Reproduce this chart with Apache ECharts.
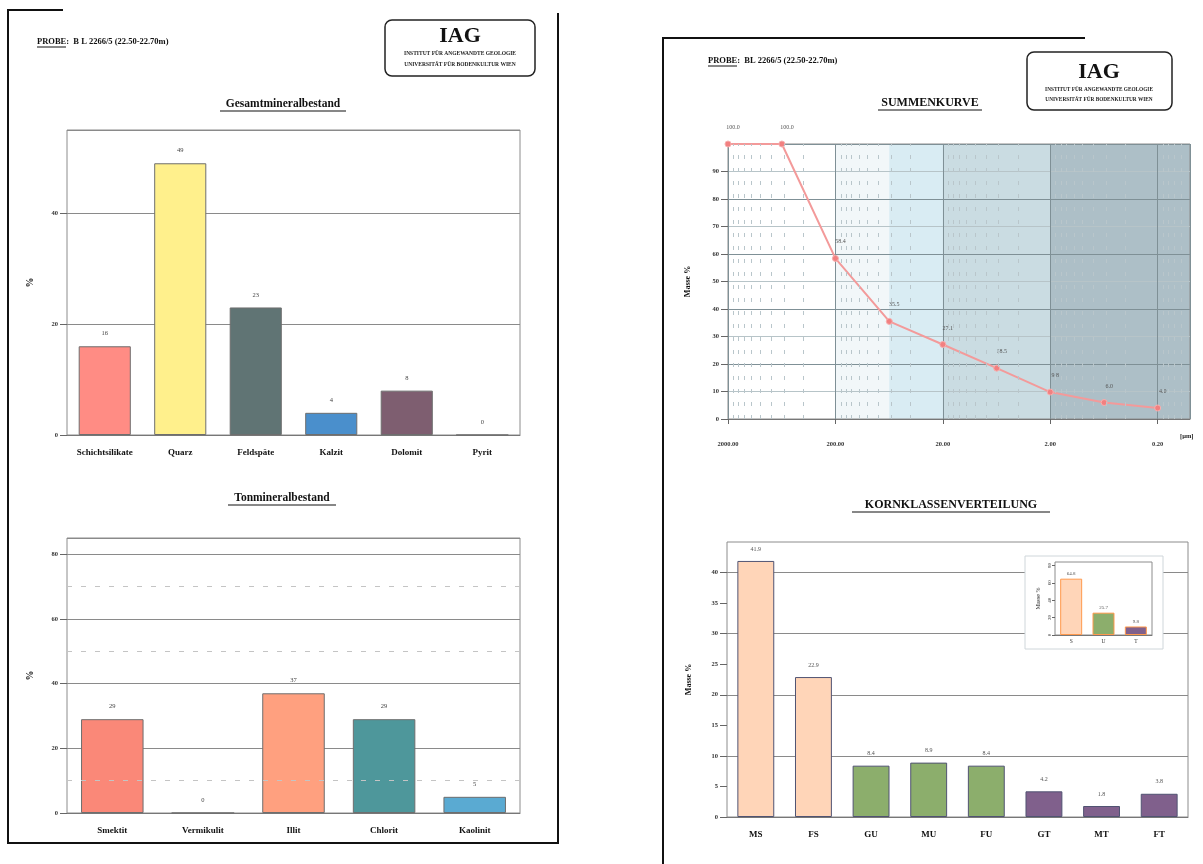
<!DOCTYPE html>
<html><head><meta charset="utf-8">
<script src="https://cdn.jsdelivr.net/npm/echarts@6/dist/echarts.min.js"></script>
<style>html,body{margin:0;padding:0;background:#fff}#c{width:1203px;height:864px}</style>
</head><body><div id="c"></div>
<script>
// ---------- DATA ----------
const gesamtCategories = ['Schichtsilikate', 'Quarz', 'Feldspäte', 'Kalzit', 'Dolomit', 'Pyrit'];
const gesamtValues = [16, 49, 23, 4, 8, 0];

const tonCategories = ['Smektit', 'Vermikulit', 'Illit', 'Chlorit', 'Kaolinit'];
const tonValues = [29, 0, 37, 29, 5];
const tonDashedLevels = [10, 50, 70];

const sieveSizes = [2000, 630, 200, 63, 20, 6.3, 2, 0.63, 0.2];          // µm
const cumulativePercent = [100.0, 100.0, 58.4, 35.5, 27.1, 18.5, 9.8, 6.0, 4.0];
const sizeAxisMax = 2000, sizeAxisMin = 0.1;                            // µm
const sizeZones = [[200, 63], [63, 20], [20, 2], [2, 0.1]];             // µm
const decadeStarts = [2000, 200, 20, 2, 0.2];
const minorFactors = [0.9, 0.8, 0.7, 0.6, 0.5, 0.4, 0.3, 0.2];

const kornCategories = ['MS', 'FS', 'GU', 'MU', 'FU', 'GT', 'MT', 'FT'];
const kornValues = [41.9, 22.9, 8.4, 8.9, 8.4, 4.2, 1.8, 3.8];

const insetCategories = ['S', 'U', 'T'];
const insetValues = [64.8, 25.7, 9.8];

// ---------- STYLE ----------
const serif = 'Liberation Serif';
const gesamtColors = ['#ff8c84', '#fff08c', '#607474', '#4a8fcc', '#7e5e70', '#999999'];
const tonColors = ['#fa8878', '#cccccc', '#ffa07f', '#4e979b', '#5aaad2'];
const kornColors = ['#ffd5b8', '#ffd5b8', '#8cae6c', '#8cae6c', '#8cae6c', '#80608c', '#80608c', '#80608c'];
const kornBorders = ['#d89070', '#d89070', '#5a7a45', '#5a7a45', '#5a7a45', '#4a3a55', '#4a3a55', '#4a3a55'];
const insetColors = ['#ffd5b8', '#8cae6c', '#80608c'];
const insetBorders = ['#d89070', '#5a7a45', '#4a3a55'];
const zoneColors = ['rgba(125,175,195,0.10)', 'rgba(118,188,212,0.28)', 'rgba(108,157,175,0.36)', 'rgba(97,133,148,0.52)'];

const toU = d => Math.log10(sizeAxisMax / d);

const chart = echarts.init(document.getElementById('c'), null, {renderer: 'canvas'});

function catAxis(idx, cats, extra) {
  return Object.assign({
    type: 'category', gridIndex: idx, data: cats,
    axisLine: {show: true, lineStyle: {color: '#777', width: 1}},
    axisTick: {show: false},
    axisLabel: {fontFamily: serif, fontWeight: 'bold', fontSize: 9, color: '#111', margin: 13, interval: 0, hideOverlap: false},
    splitLine: {show: false}
  }, extra || {});
}
function valAxis(idx, max, interval, splitColors, extra) {
  return Object.assign({
    type: 'value', gridIndex: idx, min: 0, max: max, interval: interval,
    axisLine: {show: false},
    axisTick: {show: true, inside: false, length: 7, lineStyle: {color: '#666'}},
    axisLabel: {fontFamily: serif, fontWeight: 'bold', fontSize: 6.5, color: '#333', margin: 9, showMaxLabel: false},
    splitLine: {show: true, lineStyle: {color: splitColors, width: 1}},
    nameLocation: 'middle', nameRotate: 90,
    nameTextStyle: {fontFamily: serif, fontWeight: 'bold', fontSize: 10, color: '#111'}
  }, extra || {});
}

const summData = sieveSizes.map((d, i) => [toU(d), cumulativePercent[i]]);
const minorSizes = [];
decadeStarts.forEach(D => minorFactors.forEach(f => { const v = D * f; if (v > sizeAxisMin) minorSizes.push(v); }));

const option = {
  animation: false,
  backgroundColor: '#ffffff',
  grid: [
    {left: 67, top: 130, width: 453, height: 305},
    {left: 67, top: 538, width: 453, height: 275},
    {left: 728, top: 144, width: 462, height: 275, z: 3},
    {left: 727, top: 542, width: 461, height: 275},
    {left: 1055, top: 562, width: 97, height: 73, z: 7}
  ].map(g => Object.assign({show: true, borderColor: '#8c8c8c', borderWidth: 1, backgroundColor: 'transparent', containLabel: false, outerBoundsMode: 'none'}, g)),
  xAxis: [
    catAxis(0, gesamtCategories),
    catAxis(1, tonCategories),
    {
      type: 'value', gridIndex: 2, min: 0, max: toU(sizeAxisMin), interval: 1, z: 3,
      axisLine: {show: true, lineStyle: {color: '#777'}},
      axisTick: {show: true, length: 5, lineStyle: {color: '#666'}},
      axisLabel: {fontFamily: serif, fontWeight: 'bold', fontSize: 6.5, color: '#333', margin: 22, showMaxLabel: false,
        formatter: v => (sizeAxisMax / Math.pow(10, v)).toFixed(2)},
      splitLine: {show: true, lineStyle: {color: '#7f9096', width: 1}},
      name: '[µm]', nameLocation: 'end', nameGap: -10,
      nameTextStyle: {fontFamily: serif, fontWeight: 'bold', fontSize: 6.5, color: '#222', align: 'left', verticalAlign: 'top', padding: [14, 0, 0, 0]}
    },
    catAxis(3, kornCategories),
    catAxis(4, insetCategories, {z: 8, axisLabel: {fontFamily: serif, fontSize: 5.5, color: '#333', margin: 4, interval: 0}})
  ],
  yAxis: [
    valAxis(0, 55, 20, '#8a8a8a', {name: '%', nameGap: 32}),
    valAxis(1, 85, 20, '#8a8a8a', {name: '%', nameGap: 32}),
    valAxis(2, 100, 10, ['#7f9096', '#b7c4c8'], {name: 'Masse %', nameGap: 36, z: 3, nameTextStyle: {fontFamily: serif, fontWeight: 'bold', fontSize: 8, color: '#111'}}),
    valAxis(3, 45, 5, ['#8a8a8a', 'rgba(0,0,0,0)'], {name: 'Masse %', nameGap: 34, nameTextStyle: {fontFamily: serif, fontWeight: 'bold', fontSize: 8, color: '#111'}}),
    valAxis(4, 84, 20, 'rgba(0,0,0,0)', {z: 8, name: 'Masse %', nameGap: 14,
      axisTick: {show: true, length: 3, lineStyle: {color: '#666'}},
      axisLabel: {fontFamily: serif, fontSize: 5, color: '#333', margin: 3, rotate: 90, showMaxLabel: false},
      nameTextStyle: {fontFamily: serif, fontSize: 6, color: '#222'}})
  ],
  series: [
    {
      type: 'bar', xAxisIndex: 0, yAxisIndex: 0, data: gesamtValues, barWidth: '69%',
      itemStyle: {color: p => gesamtColors[p.dataIndex], borderColor: '#6e6e6e', borderWidth: 1},
      label: {show: true, position: 'top', distance: 9, fontFamily: serif, fontSize: 6.5, color: '#444'}
    },
    {
      type: 'bar', xAxisIndex: 1, yAxisIndex: 1, data: tonValues, barWidth: '69%',
      itemStyle: {color: p => tonColors[p.dataIndex], borderColor: '#6e6e6e', borderWidth: 1},
      label: {show: true, position: 'top', distance: 9, fontFamily: serif, fontSize: 6.5, color: '#444'},
      markLine: {silent: true, symbol: ['none', 'none'], label: {show: false},
        lineStyle: {type: [5, 9], color: '#c4c4c4', width: 1},
        data: tonDashedLevels.map(v => ({yAxis: v}))}
    },
    {
      type: 'line', xAxisIndex: 2, yAxisIndex: 2, data: summData, z: 4,
      lineStyle: {color: '#f39a9a', width: 2},
      symbol: 'circle', symbolSize: 6, itemStyle: {color: '#f28080', borderColor: '#f7b0b0', borderWidth: 1},
      label: {show: true, position: 'top', distance: 10, offset: [5, 0], fontFamily: serif, fontSize: 6, color: '#555',
        formatter: p => p.value[1].toFixed(1)},
      markArea: {silent: true, label: {show: false},
        data: sizeZones.map((z, i) => [{xAxis: toU(z[0]), itemStyle: {color: zoneColors[i], opacity: 1}}, {xAxis: toU(z[1])}])},
      markLine: {silent: true, symbol: ['none', 'none'], label: {show: false},
        lineStyle: {type: [4, 9], color: '#b9c6cb', width: 1},
        data: minorSizes.map(d => ({xAxis: toU(d)}))}
    },
    {
      type: 'bar', xAxisIndex: 3, yAxisIndex: 3, data: kornValues, barWidth: '64%',
      itemStyle: {color: p => kornColors[p.dataIndex], borderColor: p => kornBorders[p.dataIndex], borderWidth: 1},
      label: {show: true, position: 'top', distance: 9, fontFamily: serif, fontSize: 6, color: '#555', formatter: p => p.value.toFixed(1)}
    },
    {
      type: 'bar', xAxisIndex: 4, yAxisIndex: 4, data: insetValues, barWidth: '68%', z: 9,
      itemStyle: {color: p => insetColors[p.dataIndex], borderColor: p => insetBorders[p.dataIndex], borderWidth: 1},
      label: {show: true, position: 'top', distance: 2, fontFamily: serif, fontSize: 5, color: '#555', formatter: p => p.value.toFixed(1)}
    }
  ],
  graphic: [
    // page frames
    {type: 'polyline', z: 10, shape: {points: [[63, 10], [8, 10], [8, 843], [558, 843], [558, 13]]}, style: {stroke: '#111', lineWidth: 2, fill: null}},
    {type: 'polyline', z: 10, shape: {points: [[1085, 38], [663, 38], [663, 864]]}, style: {stroke: '#111', lineWidth: 2, fill: null}},
    // headers
    {type: 'text', z: 10, x: 37, y: 42, style: {text: 'PROBE:  B L 2266/5 (22.50-22.70m)', font: 'bold 8.5px "Liberation Serif"', fill: '#111', verticalAlign: 'middle'}},
    {type: 'line', z: 10, shape: {x1: 37, y1: 47, x2: 66, y2: 47}, style: {stroke: '#111', lineWidth: 1}},
    {type: 'text', z: 10, x: 708, y: 61, style: {text: 'PROBE:  BL 2266/5 (22.50-22.70m)', font: 'bold 8.5px "Liberation Serif"', fill: '#111', verticalAlign: 'middle'}},
    {type: 'line', z: 10, shape: {x1: 708, y1: 66, x2: 737, y2: 66}, style: {stroke: '#111', lineWidth: 1}},
    // IAG boxes
    {type: 'rect', z: 10, shape: {x: 385, y: 20, width: 150, height: 56, r: 7}, style: {stroke: '#222', lineWidth: 1.5, fill: '#fff'}},
    {type: 'text', z: 11, x: 460, y: 36, style: {text: 'IAG', font: 'bold 22px "Liberation Serif"', fill: '#111', align: 'center', verticalAlign: 'middle'}},
    {type: 'text', z: 11, x: 460, y: 54, style: {text: 'INSTITUT FÜR ANGEWANDTE GEOLOGIE', font: 'bold 5.5px "Liberation Serif"', fill: '#222', align: 'center', verticalAlign: 'middle'}},
    {type: 'text', z: 11, x: 460, y: 65, style: {text: 'UNIVERSITÄT FÜR BODENKULTUR WIEN', font: 'bold 5.5px "Liberation Serif"', fill: '#222', align: 'center', verticalAlign: 'middle'}},
    {type: 'rect', z: 10, shape: {x: 1027, y: 52, width: 145, height: 58, r: 7}, style: {stroke: '#222', lineWidth: 1.5, fill: '#fff'}},
    {type: 'text', z: 11, x: 1099, y: 72, style: {text: 'IAG', font: 'bold 22px "Liberation Serif"', fill: '#111', align: 'center', verticalAlign: 'middle'}},
    {type: 'text', z: 11, x: 1099, y: 90, style: {text: 'INSTITUT FÜR ANGEWANDTE GEOLOGIE', font: 'bold 5.3px "Liberation Serif"', fill: '#222', align: 'center', verticalAlign: 'middle'}},
    {type: 'text', z: 11, x: 1099, y: 100, style: {text: 'UNIVERSITÄT FÜR BODENKULTUR WIEN', font: 'bold 5.3px "Liberation Serif"', fill: '#222', align: 'center', verticalAlign: 'middle'}},
    // chart titles
    {type: 'text', z: 10, x: 283, y: 104, style: {text: 'Gesamtmineralbestand', font: 'bold 11.5px "Liberation Serif"', fill: '#111', align: 'center', verticalAlign: 'middle'}},
    {type: 'line', z: 10, shape: {x1: 220, y1: 111, x2: 346, y2: 111}, style: {stroke: '#111', lineWidth: 1.2}},
    {type: 'text', z: 10, x: 282, y: 498, style: {text: 'Tonmineralbestand', font: 'bold 11.5px "Liberation Serif"', fill: '#111', align: 'center', verticalAlign: 'middle'}},
    {type: 'line', z: 10, shape: {x1: 228, y1: 505, x2: 336, y2: 505}, style: {stroke: '#111', lineWidth: 1.2}},
    {type: 'text', z: 10, x: 930, y: 103, style: {text: 'SUMMENKURVE', font: 'bold 12px "Liberation Serif"', fill: '#111', align: 'center', verticalAlign: 'middle'}},
    {type: 'line', z: 10, shape: {x1: 878, y1: 110, x2: 982, y2: 110}, style: {stroke: '#111', lineWidth: 1.2}},
    {type: 'text', z: 10, x: 951, y: 505, style: {text: 'KORNKLASSENVERTEILUNG', font: 'bold 12px "Liberation Serif"', fill: '#111', align: 'center', verticalAlign: 'middle'}},
    {type: 'line', z: 10, shape: {x1: 852, y1: 512, x2: 1050, y2: 512}, style: {stroke: '#111', lineWidth: 1.2}},
    // inset background box
    {type: 'rect', z: 5, shape: {x: 1025, y: 556, width: 138, height: 93}, style: {stroke: '#cfd6da', lineWidth: 1, fill: '#fff'}}
  ]
};
chart.setOption(option);
</script>
</body></html>
